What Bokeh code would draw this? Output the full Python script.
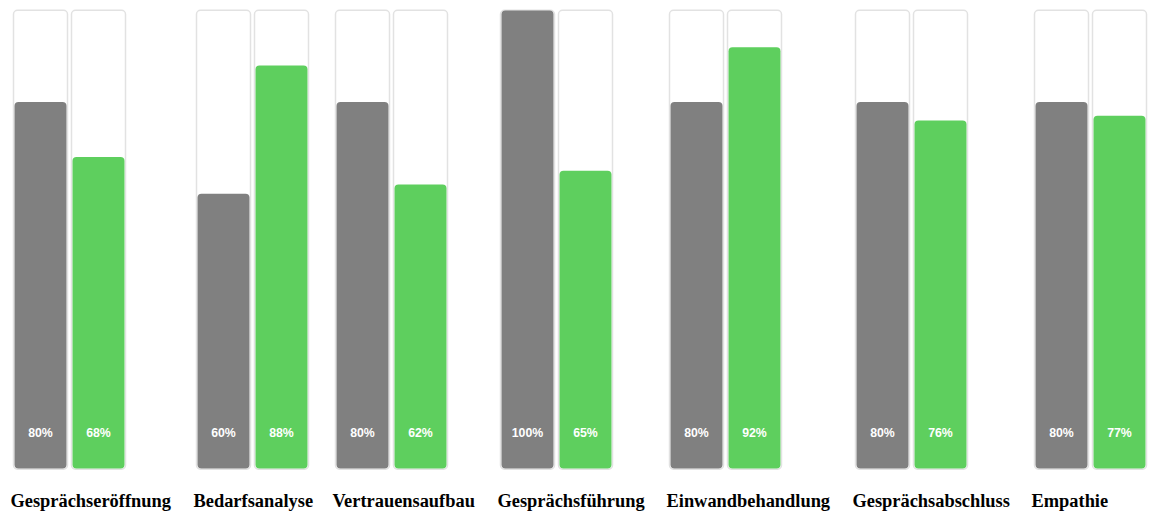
from bokeh.plotting import figure
from bokeh.models import Range1d, ColumnDataSource
from bokeh.core.properties import value
from bokeh.embed import file_html
from bokeh.resources import INLINE

# ---- data ----
categories = ["Gesprächseröffnung", "Bedarfsanalyse", "Vertrauensaufbau",
              "Gesprächsführung", "Einwandbehandlung", "Gesprächsabschluss", "Empathie"]
target_values = [80, 60, 80, 100, 80, 80, 80]
actual_values = [68, 88, 62, 65, 92, 76, 77]

# ---- layout (pixels) ----
W, H = 1152, 517
group_left = [13, 196, 335, 500, 669, 855, 1034]
bar_w = 52
bar_gap = 6
top_px, base_px = 10, 468
ppu = (base_px - top_px) / 100.0

GRAY = "#808080"
GREEN = "#5ecf5e"

p = figure(width=W, height=H, output_backend="svg", toolbar_location=None,
           x_range=Range1d(0, W),
           y_range=Range1d(-(H - base_px) / ppu, 100 + top_px / ppu),
           min_border=0, min_border_left=0, min_border_right=0,
           min_border_top=0, min_border_bottom=0)
p.axis.visible = False
p.grid.visible = False
p.outline_line_color = None
p.background_fill_color = "white"
p.border_fill_color = "white"

tl, tr, bl, br, bt, bv, bc = [], [], [], [], [], [], []
for i, g in enumerate(group_left):
    for j, (v, c) in enumerate(((target_values[i], GRAY), (actual_values[i], GREEN))):
        left = g + 1 + j * (bar_w + bar_gap)
        tl.append(left - 1)
        tr.append(left + bar_w + 1)
        bl.append(left)
        br.append(left + bar_w)
        bt.append(v)
        bv.append(f"{v}%")
        bc.append(c)

track = ColumnDataSource(dict(left=tl, right=tr))
p.quad(left="left", right="right", bottom=-0.15, top=100.05, source=track,
       fill_color="white", line_color="#e2e2e2", line_width=1.5, border_radius=4)

bars = ColumnDataSource(dict(left=bl, right=br, top=bt, color=bc, label=bv,
                             cx=[(a + b) / 2 for a, b in zip(bl, br)]))
p.quad(left="left", right="right", bottom=0, top="top", source=bars,
       fill_color="color", line_color=None, border_radius=4)

p.text(x="cx", y=(base_px - 432) / ppu, text="label", source=bars,
       text_color="white", text_font=value("Liberation Sans"), text_font_style="bold",
       text_font_size="12.3px", text_align="center", text_baseline="middle")

labels = ColumnDataSource(dict(x=[g - 3 for g in group_left], text=categories))
p.text(x="x", y=(base_px - 500.5) / ppu, text="text", source=labels,
       text_color="black", text_font=value("Liberation Serif"), text_font_style="bold",
       text_font_size="18.4px", text_align="left", text_baseline="alphabetic")

open("out.html", "w").write(file_html(p, INLINE))
